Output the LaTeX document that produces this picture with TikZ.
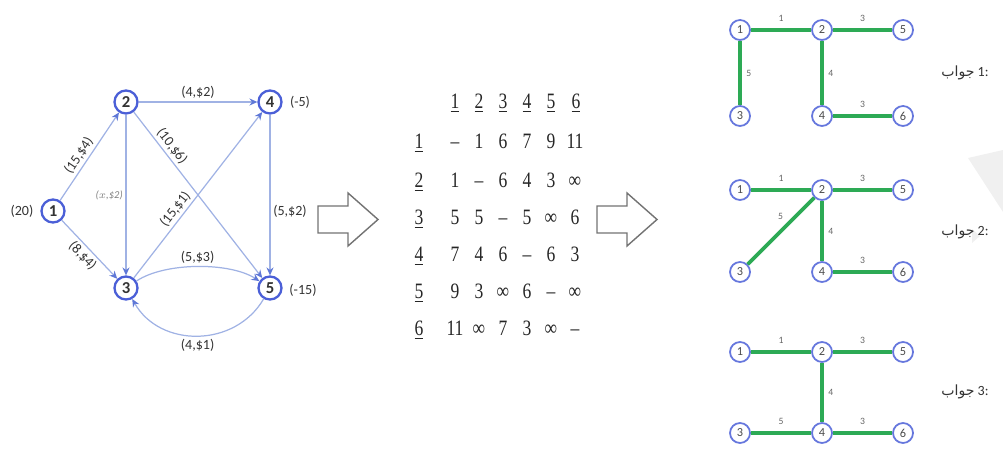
\documentclass[tikz,border=0pt]{standalone}
\usepackage{fontspec}
\setmainfont{Carlito}
\newfontfamily\matfont[FakeStretch=0.8]{Liberation Serif}
\newfontfamily\arabicfont[Script=Arabic]{DejaVu Sans}
\TeXXeTstate=1
\usetikzlibrary{arrows.meta}
\definecolor{nodeblue}{RGB}{75,95,215}
\definecolor{edgeblue}{RGB}{160,178,228}
\definecolor{tipblue}{RGB}{95,120,215}
\definecolor{treegreen}{RGB}{45,170,85}
\begin{document}
\begin{tikzpicture}[x=0.02cm,y=-0.02cm,
  gnode/.style={circle, draw=nodeblue, line width=1.3pt, fill=white, minimum size=0.46cm, inner sep=0pt, font=\fontsize{9.5}{9.5}\selectfont\bfseries, text=black!80},
  garrow/.style={draw=edgeblue, line width=0.7pt, -{Stealth[length=4.5pt,width=4pt,color=tipblue]}},
  elabel/.style={font=\fontsize{8}{8}\selectfont, text=black!80, inner sep=1.5pt},
  xlabel/.style={font=\fontsize{6}{7}\selectfont\itshape, text=black!50, inner sep=1.5pt},
  side/.style={font=\fontsize{8}{9}\selectfont, text=black!80},
  hollow/.style={draw=black!55, line width=0.8pt, fill=white, line join=miter},
  mat/.style={font=\matfont\fontsize{12.5}{13}\selectfont, text=black!85, inner sep=0pt, text height=8.5pt, text depth=0pt},
  tnode/.style={circle, draw=nodeblue!85, line width=1pt, fill=white, minimum size=0.4cm, inner sep=0pt, font=\fontsize{7}{7}\selectfont, text=black!70},
  tedge/.style={draw=treegreen, line width=2.2pt},
  wlabel/.style={font=\fontsize{5.5}{5.5}\selectfont, text=black!60, inner sep=1.5pt},
  answer/.style={font=\fontsize{8}{9}\selectfont, text=black!80}
]
\useasboundingbox (0,0) rectangle (1003,455);

% faint watermark shapes
\fill[gray!12] (968,158) -- (1003,150) -- (1003,212) -- cycle;
\fill[gray!12] (972,229) -- (980,236) -- (972,243) -- cycle;

% ---------- left graph ----------
\node[gnode] (n1) at (53,211) {1};
\node[gnode] (n2) at (126,102) {2};
\node[gnode] (n4) at (270,102) {4};
\node[gnode] (n3) at (126,288) {3};
\node[gnode] (n5) at (270,288) {5};

\node[side] (s1) at (22,211) {(20)};
\node[side] (s4) at (300,102) {(-5)};
\node[side] (s5) at (303,290) {(-15)};

\draw[garrow] (n1) -- (n2) node[elabel, pos=0.45, above, sloped] {(15,\$4)};
\draw[garrow] (n1) -- (n3) node[elabel, pos=0.5, below, sloped] {(8,\$4)};
\draw[garrow] (n2) -- (n4) node[elabel, midway, above] {(4,\$2)};
\draw[garrow] (n2) -- (n3) node[xlabel, midway, left] {($x$,\$2)};
\draw[garrow] (n2) -- (n5) node[elabel, pos=0.24, above, sloped] {(10,\$6)};
\draw[garrow] (n3) -- (n4) node[elabel, pos=0.38, above, sloped] {(15,\$1)};
\draw[garrow] (n4) -- (n5) node[elabel, pos=0.6, right] {(5,\$2)};
\draw[garrow] (n3) .. controls (165,262) and (230,262) .. (n5) node[elabel, midway, above] {(5,\$3)};
\draw[garrow] (n5) .. controls (235,348) and (160,348) .. (n3) node[elabel, midway, below] {(4,\$1)};

% ---------- hollow arrows ----------
\draw[hollow] (318,206) -- (348,206) -- (348,193) -- (378,219.5) -- (348,246) -- (348,233) -- (318,233) -- cycle;
\draw[hollow] (597,206) -- (627,206) -- (627,193) -- (657,219.5) -- (627,246) -- (627,233) -- (597,233) -- cycle;

% ---------- matrix ----------
\foreach \c/\x in {1/455,2/479,3/503,4/527,5/551,6/576}{
  \node[mat] (h\c) at (\x,101) {\underline{\c}};
}
\foreach \r/\y in {1/141,2/180,3/217,4/254,5/291,6/328}{
  \node[mat] (r\r) at (419,\y) {\underline{\r}};
}
\foreach \r/\y/\vals in {
  1/141/{–,1,6,7,9,11},
  2/180/{1,–,6,4,3,∞},
  3/217/{5,5,–,5,∞,6},
  4/254/{7,4,6,–,6,3},
  5/291/{9,3,∞,6,–,∞},
  6/328/{11,∞,7,3,∞,–}}{
  \foreach \v [count=\c] in \vals {
    \node[mat] (m\r\c) at ({431+24*\c},\y) {\v};
  }
}

% ---------- tree 1 ----------
\node[tnode] (a1) at (740,30) {1};
\node[tnode] (a2) at (822,30) {2};
\node[tnode] (a5) at (903,30) {5};
\node[tnode] (a3) at (740,116) {3};
\node[tnode] (a4) at (822,116) {4};
\node[tnode] (a6) at (903,116) {6};
\draw[tedge] (a1) -- (a2) node[wlabel, midway, above=2pt] {1};
\draw[tedge] (a2) -- (a5) node[wlabel, midway, above=2pt] {3};
\draw[tedge] (a1) -- (a3) node[wlabel, midway, right=1pt] {5};
\draw[tedge] (a2) -- (a4) node[wlabel, midway, right=1pt] {4};
\draw[tedge] (a4) -- (a6) node[wlabel, midway, above=2pt] {3};
\node[answer] (t1) at (965,73) {{\arabicfont\beginR جواب\endR} 1:};

% ---------- tree 2 ----------
\node[tnode] (b1) at (740,190) {1};
\node[tnode] (b2) at (822,190) {2};
\node[tnode] (b5) at (903,190) {5};
\node[tnode] (b3) at (740,272) {3};
\node[tnode] (b4) at (822,272) {4};
\node[tnode] (b6) at (903,272) {6};
\draw[tedge] (b1) -- (b2) node[wlabel, midway, above=2pt] {1};
\draw[tedge] (b2) -- (b5) node[wlabel, midway, above=2pt] {3};
\draw[tedge] (b3) -- (b2) node[wlabel, pos=0.6, above left=0pt] {5};
\draw[tedge] (b2) -- (b4) node[wlabel, midway, right=1pt] {4};
\draw[tedge] (b4) -- (b6) node[wlabel, midway, above=2pt] {3};
\node[answer] (t2) at (965,232) {{\arabicfont\beginR جواب\endR} 2:};

% ---------- tree 3 ----------
\node[tnode] (c1) at (740,352) {1};
\node[tnode] (c2) at (822,352) {2};
\node[tnode] (c5) at (903,352) {5};
\node[tnode] (c3) at (740,433) {3};
\node[tnode] (c4) at (822,433) {4};
\node[tnode] (c6) at (903,433) {6};
\draw[tedge] (c1) -- (c2) node[wlabel, midway, above=2pt] {1};
\draw[tedge] (c2) -- (c5) node[wlabel, midway, above=2pt] {3};
\draw[tedge] (c2) -- (c4) node[wlabel, midway, right=1pt] {4};
\draw[tedge] (c3) -- (c4) node[wlabel, midway, above=2pt] {5};
\draw[tedge] (c4) -- (c6) node[wlabel, midway, above=2pt] {3};
\node[answer] (t3) at (965,392) {{\arabicfont\beginR جواب\endR} 3:};
\end{tikzpicture}
\end{document}
